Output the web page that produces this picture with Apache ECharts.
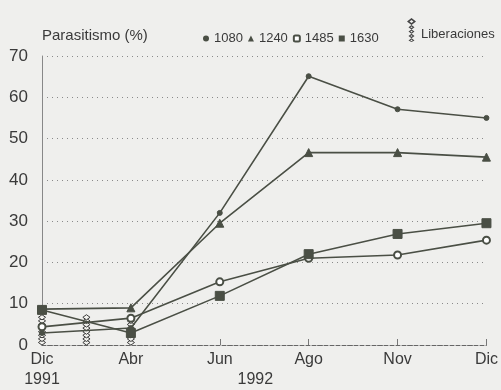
<!DOCTYPE html>
<html>
<head>
<meta charset="utf-8">
<script src="https://cdn.jsdelivr.net/npm/echarts@6/dist/echarts.min.js"></script>
<style>
html,body{margin:0;padding:0;background:#efefed;}
#c{width:501px;height:390px;}
</style>
</head>
<body>
<div id="c"></div>
<script>
// ---- data ----
const categories = ['Dic\n1991', 'Abr', 'Jun', 'Ago', 'Nov', 'Dic'];
const yearLabel = '1992';
const yTicks = [0, 10, 20, 30, 40, 50, 60, 70];
const s1080 = [2.9, 4.1, 32, 65.1, 57.1, 55];
const s1240 = [8.7, 9, 29.5, 46.6, 46.6, 45.5];
const s1485 = [4.4, 6.5, 15.3, 21, 21.8, 25.4];
const s1630 = [8.5, 2.9, 11.9, 22, 26.9, 29.5];
const libX = [0, 0.5, 1];
const libH = [7.5, 7, 7.5];

const FONT = "'Liberation Sans', Arial, sans-serif";
const TXT = '#3a3a3a';
const LINE = '#4a4f45';

const toPairs = arr => arr.map((v, i) => [i, v]);

const chainIcon = 'path://M4.5 0 L9 3.5 L4.5 7 L0 3.5 Z M4.5 2 L2.5 3.5 L4.5 5 L6.5 3.5 Z' +
  ' M4.5 7 L7.5 9.2 L4.5 11.4 L1.5 9.2 Z M4.5 8.4 L3.3 9.2 L4.5 10 L5.7 9.2 Z' +
  ' M4.5 11.4 L7.5 13.6 L4.5 15.8 L1.5 13.6 Z M4.5 12.8 L3.3 13.6 L4.5 14.4 L5.7 13.6 Z' +
  ' M4.5 15.8 L7.5 18 L4.5 20.2 L1.5 18 Z M4.5 17.2 L3.3 18 L4.5 18.8 L5.7 18 Z' +
  ' M4.5 20.2 L7.5 22.4 L4.5 24 L1.5 22.4 Z M4.5 21.6 L3.3 22.4 L4.5 23.2 L5.7 22.4 Z';

const chart = echarts.init(document.getElementById('c'), null, {renderer: 'canvas'});

function lineSeries(name, data, symbol, size) {
  return {
    name: name,
    type: 'line',
    data: toPairs(data),
    symbol: symbol,
    symbolSize: size,
    z: 3,
    lineStyle: {color: LINE, width: 1.6},
    itemStyle: {color: LINE, borderColor: LINE},
    emphasis: {disabled: true}
  };
}

const option = {
  backgroundColor: '#efefed',
  animation: false,
  textStyle: {fontFamily: FONT, color: TXT},
  title: {
    text: 'Parasitismo (%)',
    left: 37, top: 23,
    textStyle: {fontFamily: FONT, fontSize: 15, fontWeight: 'normal', color: TXT}
  },
  legend: [{
    left: 198, top: 27,
    itemWidth: 6, itemHeight: 6, itemGap: 5,
    textStyle: {fontFamily: FONT, fontSize: 13, color: TXT},
    data: [
      {name: '1080', icon: 'circle'},
      {name: '1240', icon: 'triangle'},
      {name: '1485', icon: 'emptyRoundRect'},
      {name: '1630', icon: 'rect'}
    ]
  }, {
    left: 402, top: 13,
    itemWidth: 9, itemHeight: 24,
    formatter: name => '\n' + name,
    textStyle: {fontFamily: FONT, fontSize: 13, color: TXT, lineHeight: 8},
    data: [{name: 'Liberaciones', icon: chainIcon}]
  }],
  grid: {left: 42, right: 11, top: 56, bottom: 45, containLabel: false},
  xAxis: [{
    type: 'value', min: 0, max: categories.length - 1, interval: 1,
    axisLine: {show: true, lineStyle: {color: '#666', width: 1, type: [4, 2]}},
    axisTick: {show: true, inside: true, length: 6, lineStyle: {color: '#777'}},
    splitLine: {show: false},
    axisLabel: {
      fontFamily: FONT, fontSize: 16, color: TXT, margin: 5, lineHeight: 20,
      formatter: v => categories[Math.round(v)] || ''
    }
  }, {
    type: 'value', min: 0, max: categories.length - 1, position: 'bottom',
    axisLine: {show: false}, axisTick: {show: false}, splitLine: {show: false},
    axisLabel: {
      customValues: [2.4],
      fontFamily: FONT, fontSize: 16, color: TXT, margin: 27, lineHeight: 16,
      formatter: () => yearLabel
    }
  }],
  yAxis: {
    type: 'value', min: yTicks[0], max: yTicks[yTicks.length - 1], interval: 10,
    axisLine: {show: true, lineStyle: {color: '#888', width: 1}},
    axisTick: {show: false},
    splitLine: {show: true, lineStyle: {color: '#8a8a8a', width: 1, type: [1, 4]}},
    axisLabel: {fontFamily: FONT, fontSize: 17, color: TXT, margin: 14}
  },
  series: [
    {
      name: 'Liberaciones',
      type: 'custom',
      z: 1,
      itemStyle: {color: '#444'},
      data: libX.map((x, i) => [x, libH[i]]),
      renderItem: function (params, api) {
        const x = api.value(0), h = api.value(1);
        const b = api.coord([x, 0]);
        const t = api.coord([x, h]);
        const children = [];
        for (let y = b[1] - 2.5; y >= t[1]; y -= 3.6) {
          children.push({
            type: 'polygon',
            shape: {points: [[b[0], y - 2.6], [b[0] + 3.6, y], [b[0], y + 2.6], [b[0] - 3.6, y]]},
            style: {fill: '#f2f2ee', stroke: '#3a3a3a', lineWidth: 1}
          });
        }
        return {type: 'group', children: children};
      }
    },
    lineSeries('1080', s1080, 'circle', 5),
    lineSeries('1240', s1240, 'triangle', 8),
    Object.assign(lineSeries('1485', s1485, 'emptyCircle', 7), {itemStyle: {color: LINE, borderColor: LINE, borderWidth: 1.2}}),
    lineSeries('1630', s1630, 'rect', 9)
  ]
};
chart.setOption(option);
</script>
</body>
</html>
